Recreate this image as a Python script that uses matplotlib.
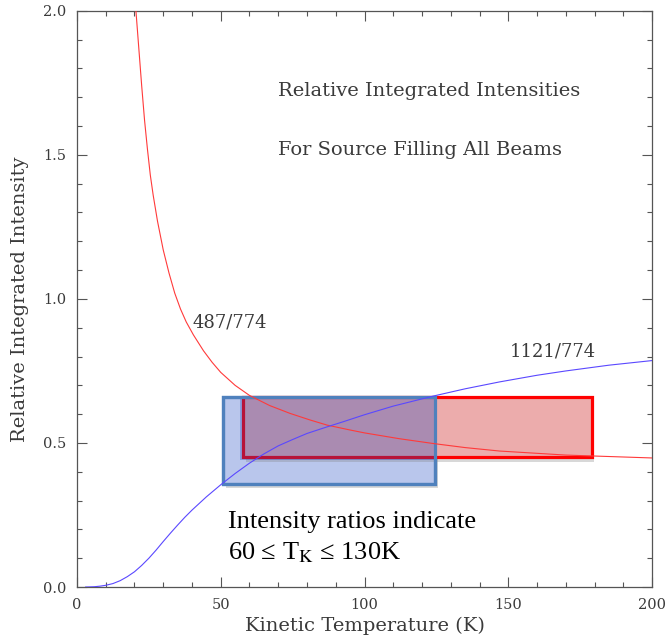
import matplotlib
matplotlib.use('Agg')
import matplotlib.pyplot as plt
import matplotlib.patches as mpatches
import matplotlib.patheffects as pe
from matplotlib.ticker import MultipleLocator, FormatStrFormatter

# curve readings (kinetic temperature K, relative integrated intensity)
t_1121 = [3, 6, 8, 10, 12.5, 15, 17.5, 20, 22.5, 25, 27.5, 30, 32.5, 35, 37.5,
          40, 45, 50, 55, 60, 65, 70, 75, 80, 87, 93, 100, 110, 124, 135,
          147, 160, 170, 185, 200]
r_1121 = [0.0, 0.001, 0.003, 0.006, 0.012, 0.022, 0.036, 0.053, 0.075, 0.10,
          0.128, 0.158, 0.187, 0.215, 0.242, 0.267, 0.313, 0.355, 0.394, 0.43,
          0.462, 0.49, 0.512, 0.533, 0.556, 0.575, 0.598, 0.628, 0.663, 0.688,
          0.712, 0.735, 0.75, 0.77, 0.786]

t_487 = [20.5, 21.5, 22.5, 23.5, 24.5, 25.5, 26.5, 28, 30, 32, 34, 36, 38,
         40.5, 44, 47, 50, 55, 60, 67, 74, 81, 87, 95, 100, 112, 124, 135, 147,
         170, 200]
r_487 = [2.0, 1.87, 1.74, 1.62, 1.52, 1.43, 1.36, 1.27, 1.17, 1.09, 1.02,
         0.965, 0.92, 0.875, 0.82, 0.78, 0.745, 0.70, 0.665, 0.63, 0.603, 0.58,
         0.562, 0.545, 0.535, 0.515, 0.498, 0.484, 0.472, 0.458, 0.448]

# allowed ranges (T range, ratio range) for each line pair
box_1121_t = [50.8, 124.5]
box_1121_r = [0.357, 0.66]
box_487_t = [57.7, 179.0]
box_487_r = [0.45, 0.66]

plt.rcParams['mathtext.fontset'] = 'stix'
gray_txt = '#3a3a3a'
label_font = 'DejaVu Serif'

fig = plt.figure(figsize=(6.66, 6.36), dpi=100)
ax = fig.add_axes([0.1156, 0.077, 0.8634, 0.906])


def shadowed():
    return [pe.SimplePatchShadow(offset=(2, -3), shadow_rgbFace='#808080', alpha=0.3), pe.Normal()]


bw = box_1121_t[1] - box_1121_t[0]
bh = box_1121_r[1] - box_1121_r[0]
rw = box_487_t[1] - box_487_t[0]
rh = box_487_r[1] - box_487_r[0]

# blue box fill underneath, red box over it, then a blue tint on the overlap
ax.add_patch(mpatches.Rectangle((box_1121_t[0], box_1121_r[0]), bw, bh,
                                facecolor='#b9c6ec', edgecolor='#4f81bd', linewidth=2.3,
                                zorder=1, path_effects=shadowed()))
ax.add_patch(mpatches.Rectangle((box_487_t[0], box_487_r[0]), rw, rh,
                                facecolor='#ecacac', edgecolor='#ff0000', linewidth=2.3,
                                zorder=2, path_effects=shadowed()))
ov_t0 = max(box_1121_t[0], box_487_t[0]) - 1.0
ov_t1 = min(box_1121_t[1], box_487_t[1])
ov_r0 = max(box_1121_r[0], box_487_r[0]) - 0.01
ov_r1 = min(box_1121_r[1], box_487_r[1])
ax.add_patch(mpatches.Rectangle((ov_t0, ov_r0), ov_t1 - ov_t0, ov_r1 - ov_r0,
                                facecolor=(0.07, 0.25, 0.75, 0.3), edgecolor='none',
                                zorder=3))
ax.add_patch(mpatches.Rectangle((box_1121_t[0], box_1121_r[0]), bw, bh,
                                facecolor='none', edgecolor='#4f81bd', linewidth=2.3,
                                zorder=3))

ax.plot(t_487, r_487, color='#ff3a3a', lw=0.8, zorder=4)
ax.plot(t_1121, r_1121, color='#5a48ff', lw=0.8, zorder=4)

ax.set_xlim(0, 200)
ax.set_ylim(0, 2.0)

ax.xaxis.set_major_locator(MultipleLocator(50))
ax.xaxis.set_minor_locator(MultipleLocator(10))
ax.yaxis.set_major_locator(MultipleLocator(0.5))
ax.yaxis.set_minor_locator(MultipleLocator(0.1))
ax.yaxis.set_major_formatter(FormatStrFormatter('%.1f'))
ax.tick_params(which='both', direction='in', top=True, right=True, colors='#555555',
               labelcolor=gray_txt, labelsize=10.5, width=0.8)
ax.tick_params(which='major', length=7.2, pad=8)
ax.tick_params(which='minor', length=3.6)
for lab in ax.get_xticklabels() + ax.get_yticklabels():
    lab.set_fontfamily(label_font)
for s in ax.spines.values():
    s.set_color('#555555')
    s.set_linewidth(0.9)

ax.set_xlabel('Kinetic Temperature (K)', fontfamily=label_font, fontsize=14,
              color=gray_txt, labelpad=3)
ax.set_ylabel('Relative Integrated Intensity', fontfamily=label_font, fontsize=14,
              color=gray_txt, labelpad=10)

ax.text(70, 1.72, 'Relative Integrated Intensities', fontfamily=label_font,
        fontsize=14, color=gray_txt, va='center')
ax.text(70, 1.517, 'For Source Filling All Beams', fontfamily=label_font,
        fontsize=14, color=gray_txt, va='center')
ax.text(40.3, 0.917, '487/774', fontfamily=label_font, fontsize=13,
        color=gray_txt, va='center')
ax.text(150.6, 0.816, '1121/774', fontfamily=label_font, fontsize=13,
        color=gray_txt, va='center')

ax.text(52.5, 0.226, 'Intensity ratios indicate', fontfamily='Liberation Serif',
        fontsize=19, color='black', va='center', zorder=5)
ax.text(52.5, 0.118, r'60 ≤ T$_{\rm K}$ ≤ 130K', fontfamily='Liberation Serif',
        fontsize=19, color='black', va='center', zorder=5)

fig.savefig('out.png', dpi=100)
